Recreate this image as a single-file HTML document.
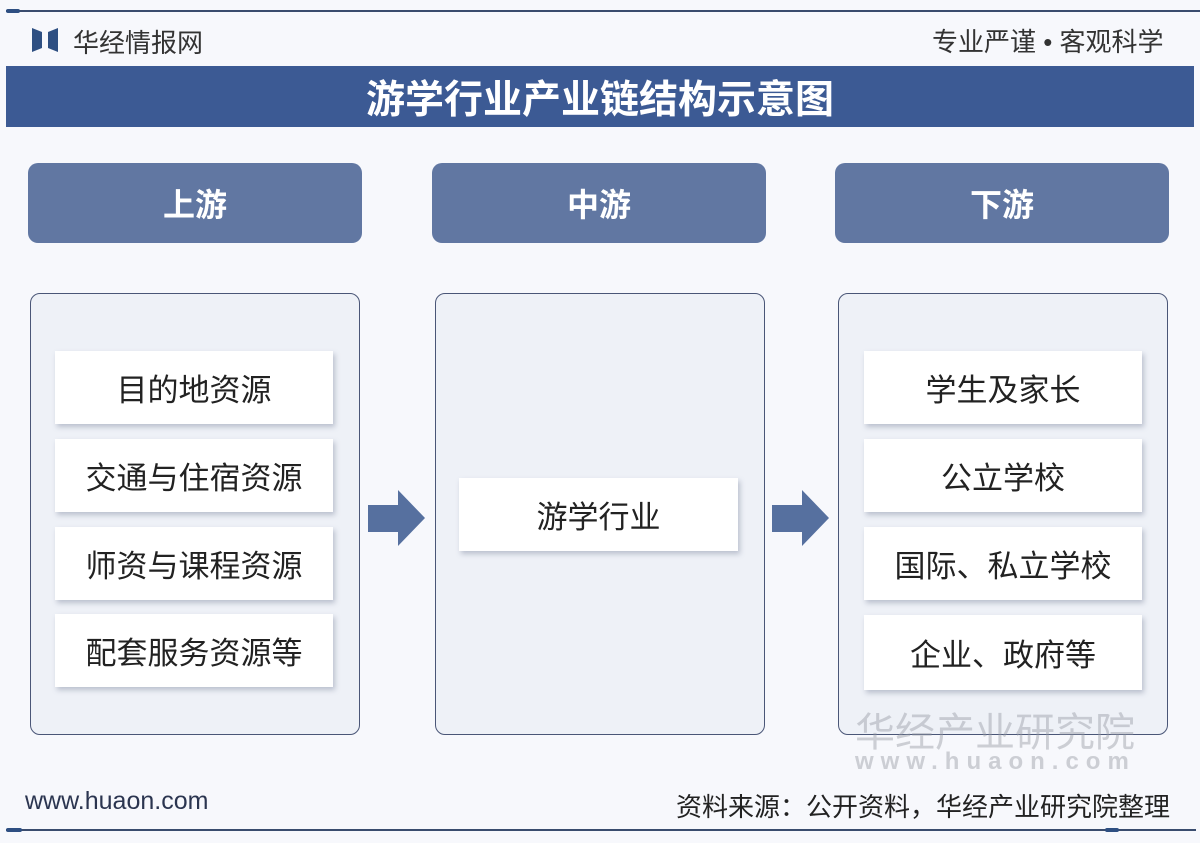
<!DOCTYPE html>
<html><head><meta charset="utf-8"><style>
*{margin:0;padding:0;box-sizing:border-box}
body{width:1200px;height:843px;background:#f7f8fc;position:relative;overflow:hidden;font-family:"Liberation Sans","Noto Sans CJK SC",sans-serif}
.a{position:absolute}
.hdr{background:#6177a2;border-radius:10px;color:#fff;font-size:32px;font-weight:bold;display:flex;align-items:center;justify-content:center;top:163px;height:80px;width:334px}
.pan{border:1.5px solid #4a5677;border-radius:10px;background:#eef1f7;top:293px;height:442px;width:330px}
.it{background:#fff;box-shadow:2px 3px 5px rgba(90,100,130,.35);display:flex;align-items:center;justify-content:center;font-size:31px;color:#222;width:278px;height:73px}
</style></head><body>
<div class="a" style="left:6px;top:10px;width:1194px;height:2px;background:#3a4c6e"></div>
<div class="a" style="left:6px;top:9px;width:14px;height:4px;background:#2e4f82;border-radius:2px"></div>
<svg class="a" style="left:32px;top:27px" width="26" height="26"><polygon points="0,1 10,5 10,21 0,25" fill="#2e4f82"/><polygon points="26,1 16,5 16,21 26,25" fill="#2e4f82"/></svg>
<div class="a" style="left:73px;top:23px;font-size:26px;color:#333">华经情报网</div>
<div class="a" style="left:932px;top:22px;font-size:26px;color:#333">专业严谨 • 客观科学</div>
<div class="a" style="left:6px;top:66px;width:1188px;height:61px;background:#3c5a94;color:#fff;font-size:39px;font-weight:bold;display:flex;align-items:center;justify-content:center">游学行业产业链结构示意图</div>
<div class="a hdr" style="left:28px">上游</div>
<div class="a hdr" style="left:432px">中游</div>
<div class="a hdr" style="left:835px">下游</div>
<div class="a pan" style="left:30px"></div>
<div class="a pan" style="left:435px"></div>
<div class="a pan" style="left:838px"></div>
<div class="a it" style="left:55px;top:351px">目的地资源</div>
<div class="a it" style="left:55px;top:439px">交通与住宿资源</div>
<div class="a it" style="left:55px;top:527px">师资与课程资源</div>
<div class="a it" style="left:55px;top:614px">配套服务资源等</div>
<div class="a it" style="left:459px;top:478px;width:279px">游学行业</div>
<div class="a it" style="left:864px;top:351px">学生及家长</div>
<div class="a it" style="left:864px;top:439px">公立学校</div>
<div class="a it" style="left:864px;top:527px">国际、私立学校</div>
<div class="a it" style="left:864px;top:615px;height:75px">企业、政府等</div>
<svg class="a" style="left:0;top:0" width="1200" height="843"><polygon points="368,505 398,505 398,490 425,518 398,546 398,532 368,532" fill="#56709f"/><polygon points="772,505 802,505 802,490 829,518 802,546 802,532 772,532" fill="#56709f"/></svg>
<div class="a" style="left:855px;top:700px;font-size:40px;color:rgba(150,155,165,.45)">华经产业研究院</div>
<div class="a" style="left:855px;top:748px;font-size:24px;letter-spacing:7px;color:rgba(150,155,165,.45);font-weight:bold">www.huaon.com</div>
<div class="a" style="left:25px;top:787px;font-size:25px;color:#2b3550">www.huaon.com</div>
<div class="a" style="left:676px;top:787px;font-size:26px;color:#222">资料来源：公开资料，华经产业研究院整理</div>
<div class="a" style="left:6px;top:829px;width:1190px;height:2px;background:#3a4c6e"></div>
<div class="a" style="left:6px;top:828px;width:16px;height:4px;background:#2e4f82;border-radius:2px"></div>
<div class="a" style="left:1105px;top:828px;width:14px;height:4px;background:#2e4f82;border-radius:2px"></div>
</body></html>
